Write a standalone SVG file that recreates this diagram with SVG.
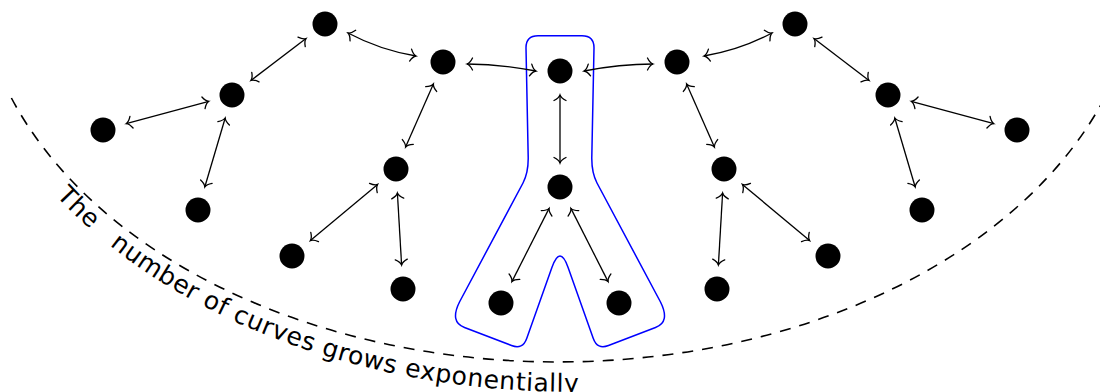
<svg xmlns="http://www.w3.org/2000/svg" width="1100" height="392" viewBox="0 0 1100 392">
<style>
.node{fill:#000}
.edge{fill:none;stroke:#000;stroke-width:1.3;marker-start:url(#ah);marker-end:url(#ah)}
.lbl{font-family:"DejaVu Sans","Noto Sans",sans-serif;font-size:25px;fill:#000;letter-spacing:0.6px}
</style>
<defs>
<marker id="ah" viewBox="-8 -8 10 16" refX="0" refY="0" markerWidth="10" markerHeight="16" markerUnits="userSpaceOnUse" orient="auto-start-reverse">
<path d="M-5.5,-6 Q-3,-1 0,0 Q-3,1 -5.5,6" fill="none" stroke="#000" stroke-width="1.3" stroke-linecap="round"/>
</marker>
<path id="tp" d="M -47,-40 A 605 423 0 0 0 1163,-40"/>
</defs>
<path id="arc" d="M 11.4,98 A 582 402 0 0 0 1104.6,98" fill="none" stroke="#000" stroke-width="1.6" stroke-dasharray="11 9"/>
<path id="blob" d="M 538,35.7 L 582,35.7 Q 594,35.7 594,47.7 L 591.8,157 Q 591.5,172.6 597,183 L 660.5,302 Q 670.5,322 655.5,327.5 L 608.5,345.5 Q 597.3,349.8 593.3,338.5 L 568.1,267.5 Q 560,244.5 551.9,267.5 L 526.7,338.5 Q 522.7,349.8 511.5,345.5 L 464.5,327.5 Q 449.5,322 459.5,302 L 523,183 Q 528.5,172.6 528.2,157 L 526,47.7 Q 526,35.7 538,35.7 Z" fill="none" stroke="#0000ff" stroke-width="1.5"/>
<g id="connectors">
<path class="edge" d="M467,64 Q500,64 536,71"/>
<path class="edge" d="M653,64 Q620,64 584,71"/>
<path class="edge" d="M416,56 Q380,50 348,33"/>
<path class="edge" d="M704,56 Q740,50 772,33"/>
<path class="edge" d="M306,38.6 L251,80.4"/>
<path class="edge" d="M208.8,101.3 L126.2,123.7"/>
<path class="edge" d="M225.2,118 L204.8,187"/>
<path class="edge" d="M433.4,84 L405.6,147"/>
<path class="edge" d="M377.6,184.4 L310.4,240.6"/>
<path class="edge" d="M397.4,193 L401.6,265"/>
<path class="edge" d="M560,95 L560,163"/>
<path class="edge" d="M549.1,208.4 L511.9,281.6"/>
<path class="edge" d="M570.9,208.4 L608.1,281.6"/>
<path class="edge" d="M814,38.6 L869,80.4"/>
<path class="edge" d="M911.2,101.3 L993.8,123.7"/>
<path class="edge" d="M894.8,118 L915.2,187"/>
<path class="edge" d="M686.6,84 L714.4,147"/>
<path class="edge" d="M742.4,184.4 L809.6,240.6"/>
<path class="edge" d="M722.6,193 L718.4,265"/>
</g>
<g id="n1"><circle class="node" cx="103" cy="130" r="12.5"/></g>
<g id="n2"><circle class="node" cx="232" cy="95" r="12.5"/></g>
<g id="n3"><circle class="node" cx="325" cy="24" r="12.5"/></g>
<g id="n4"><circle class="node" cx="443" cy="62" r="12.5"/></g>
<g id="n5"><circle class="node" cx="198" cy="210" r="12.5"/></g>
<g id="n6"><circle class="node" cx="396" cy="169" r="12.5"/></g>
<g id="n7"><circle class="node" cx="292" cy="256" r="12.5"/></g>
<g id="n8"><circle class="node" cx="403" cy="289" r="12.5"/></g>
<g id="c0"><circle class="node" cx="560" cy="71" r="12.5"/></g>
<g id="c1"><circle class="node" cx="560" cy="187" r="12.5"/></g>
<g id="c2"><circle class="node" cx="501" cy="303" r="12.5"/></g>
<g id="c3"><circle class="node" cx="619" cy="303" r="12.5"/></g>
<g id="m1"><circle class="node" cx="1017" cy="130" r="12.5"/></g>
<g id="m2"><circle class="node" cx="888" cy="95" r="12.5"/></g>
<g id="m3"><circle class="node" cx="795" cy="24" r="12.5"/></g>
<g id="m4"><circle class="node" cx="677" cy="62" r="12.5"/></g>
<g id="m5"><circle class="node" cx="922" cy="210" r="12.5"/></g>
<g id="m6"><circle class="node" cx="724" cy="169" r="12.5"/></g>
<g id="m7"><circle class="node" cx="828" cy="256" r="12.5"/></g>
<g id="m8"><circle class="node" cx="717" cy="289" r="12.5"/></g>
<text class="lbl" transform="rotate(1 62 207)"><textPath href="#tp" startOffset="264">The <tspan dx="16">number of curves grows exponentially</tspan></textPath></text>
</svg>
